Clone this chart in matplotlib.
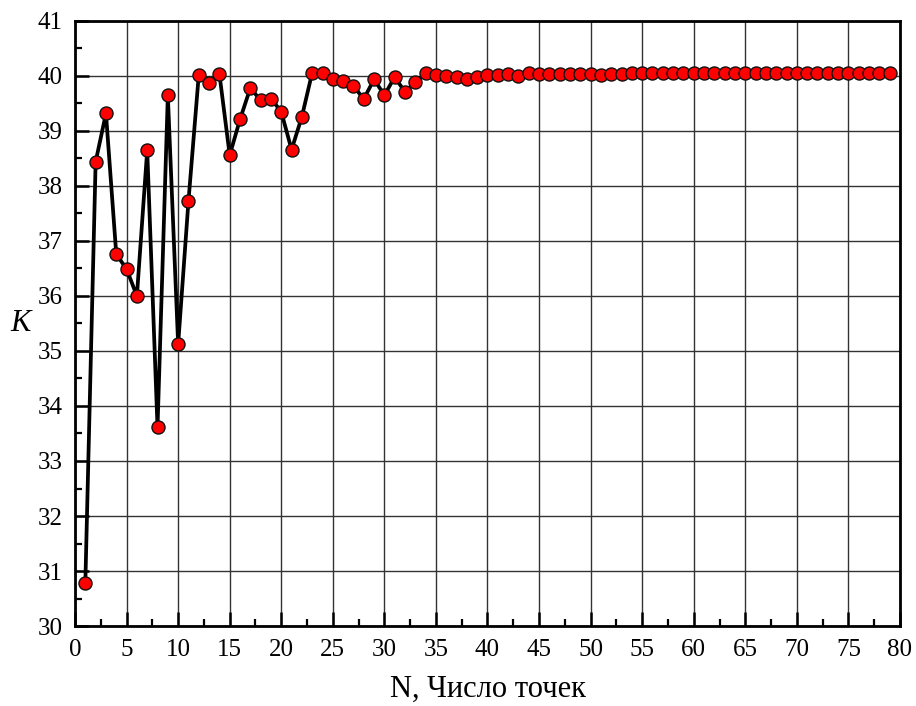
import matplotlib
matplotlib.use("Agg")
import matplotlib.pyplot as plt
import numpy as np
from matplotlib.ticker import MultipleLocator

# Number of points N and the resulting coefficient K
n_points = list(range(1, 80))
k_values = [
    30.78, 38.44, 39.32, 36.76, 36.49, 36.00, 38.65, 33.61, 39.65, 35.12,
    37.72, 40.02, 39.88, 40.04, 38.56, 39.21, 39.78, 39.56, 39.59, 39.35,
    38.66, 39.26, 40.06, 40.05, 39.94, 39.90, 39.82, 39.58, 39.94, 39.65,
    39.98, 39.71, 39.89, 40.05, 40.02, 40.00, 39.98, 39.94, 39.98, 40.01,
    40.01, 40.04, 40.00, 40.05, 40.04, 40.04, 40.04, 40.04, 40.04, 40.04,
    40.02, 40.04, 40.04, 40.05, 40.05, 40.05, 40.05, 40.05, 40.05, 40.05,
    40.05, 40.05, 40.05, 40.05, 40.05, 40.05, 40.05, 40.05, 40.05, 40.05,
    40.05, 40.05, 40.05, 40.05, 40.05, 40.05, 40.05, 40.05, 40.05,
]

plt.rcParams["font.family"] = ["Liberation Serif", "DejaVu Serif"]

fig = plt.figure(figsize=(9.16, 7.06), dpi=100)
ax = fig.add_axes([0.0819, 0.1133, 0.9006, 0.857])

ax.plot(n_points, k_values, color="black", linewidth=2.7, marker="o",
        markersize=9.4, markerfacecolor="#ff0000", markeredgecolor="#111111",
        markeredgewidth=1.0, zorder=3)

ax.set_xlim(0, 80)
ax.set_ylim(30, 41)
ax.xaxis.set_major_locator(MultipleLocator(5))
ax.xaxis.set_minor_locator(MultipleLocator(2.5))
ax.yaxis.set_major_locator(MultipleLocator(1))
ax.yaxis.set_minor_locator(MultipleLocator(0.5))

ax.grid(which="major", color="#333333", linewidth=1.0, zorder=0)
ax.tick_params(which="major", direction="in", length=10, width=1.8,
               labelsize=18, pad=9)
ax.tick_params(which="minor", direction="in", length=5, width=1.6)
for s in ax.spines.values():
    s.set_linewidth(2.0)

ax.set_xlabel("N, Число точек", fontsize=22, labelpad=10)
ax.set_ylabel("K", fontsize=22, style="italic", rotation=0, labelpad=12,
              va="center")

fig.savefig("out.png", dpi=100)
